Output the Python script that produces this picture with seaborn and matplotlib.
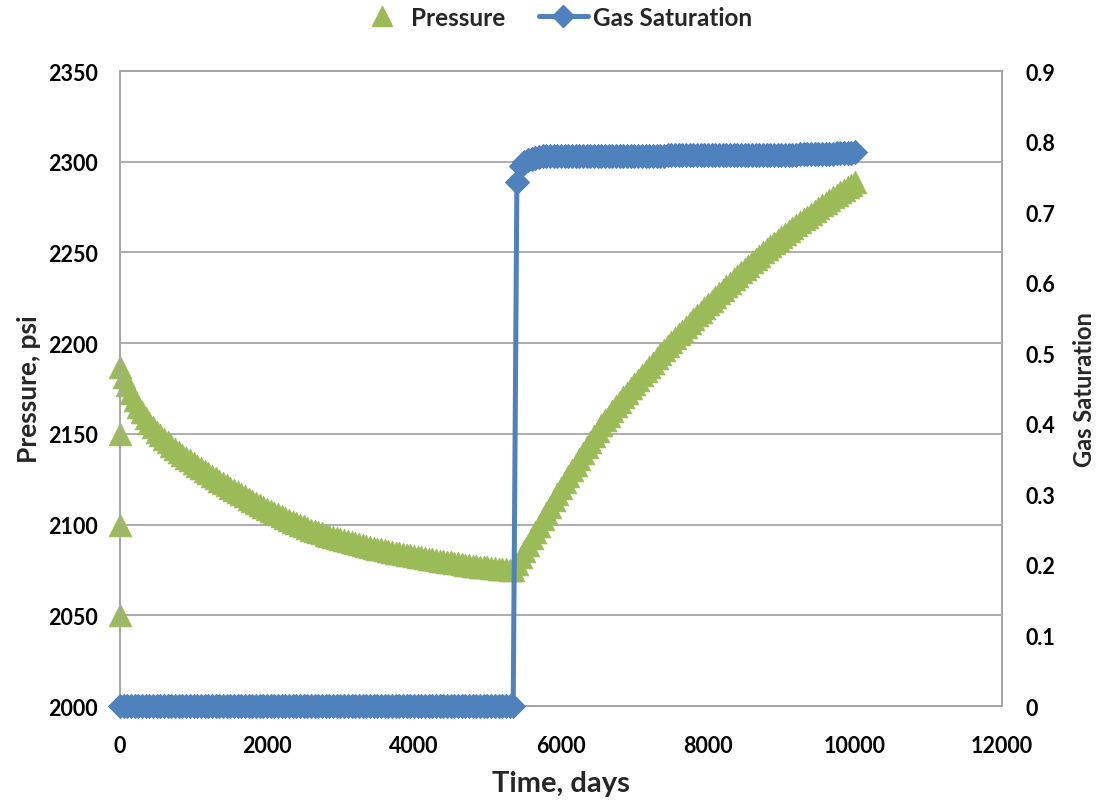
import matplotlib
matplotlib.use("Agg")
import matplotlib.pyplot as plt
from matplotlib.lines import Line2D
import seaborn as sns
import pandas as pd

# Simulation output: report times (days), one row per 500 days
time_days = [
    0, 50, 100, 150, 200, 250, 300, 350, 400, 450,
    500, 550, 600, 650, 700, 750, 800, 850, 900, 950,
    1000, 1050, 1100, 1150, 1200, 1250, 1300, 1350, 1400, 1450,
    1500, 1550, 1600, 1650, 1700, 1750, 1800, 1850, 1900, 1950,
    2000, 2050, 2100, 2150, 2200, 2250, 2300, 2350, 2400, 2450,
    2500, 2550, 2600, 2650, 2700, 2750, 2800, 2850, 2900, 2950,
    3000, 3050, 3100, 3150, 3200, 3250, 3300, 3350, 3400, 3450,
    3500, 3550, 3600, 3650, 3700, 3750, 3800, 3850, 3900, 3950,
    4000, 4050, 4100, 4150, 4200, 4250, 4300, 4350, 4400, 4450,
    4500, 4550, 4600, 4650, 4700, 4750, 4800, 4850, 4900, 4950,
    5000, 5050, 5100, 5150, 5200, 5250, 5300, 5350, 5400, 5450,
    5500, 5550, 5600, 5650, 5700, 5750, 5800, 5850, 5900, 5950,
    6000, 6050, 6100, 6150, 6200, 6250, 6300, 6350, 6400, 6450,
    6500, 6550, 6600, 6650, 6700, 6750, 6800, 6850, 6900, 6950,
    7000, 7050, 7100, 7150, 7200, 7250, 7300, 7350, 7400, 7450,
    7500, 7550, 7600, 7650, 7700, 7750, 7800, 7850, 7900, 7950,
    8000, 8050, 8100, 8150, 8200, 8250, 8300, 8350, 8400, 8450,
    8500, 8550, 8600, 8650, 8700, 8750, 8800, 8850, 8900, 8950,
    9000, 9050, 9100, 9150, 9200, 9250, 9300, 9350, 9400, 9450,
    9500, 9550, 9600, 9650, 9700, 9750, 9800, 9850, 9900, 9950,
    10000,
]

# Average reservoir pressure, psi
pressure_psi = [
    2187.0, 2181.6, 2176.8, 2172.4, 2168.6, 2165.0, 2161.8, 2158.8, 2156.1, 2153.6,
    2151.3, 2149.2, 2147.2, 2145.3, 2143.5, 2141.8, 2140.1, 2138.5, 2136.9, 2135.4,
    2133.9, 2132.4, 2131.0, 2129.6, 2128.2, 2126.8, 2125.5, 2124.2, 2122.9, 2121.6,
    2120.4, 2119.1, 2117.9, 2116.7, 2115.5, 2114.3, 2113.1, 2112.0, 2110.9, 2109.8,
    2108.7, 2107.6, 2106.6, 2105.6, 2104.6, 2103.6, 2102.7, 2101.7, 2100.8, 2099.9,
    2099.0, 2098.1, 2097.3, 2096.5, 2095.8, 2095.1, 2094.4, 2093.7, 2093.1, 2092.5,
    2091.9, 2091.3, 2090.8, 2090.2, 2089.7, 2089.2, 2088.7, 2088.2, 2087.7, 2087.2,
    2086.8, 2086.3, 2085.9, 2085.4, 2085.0, 2084.6, 2084.2, 2083.8, 2083.4, 2083.0,
    2082.6, 2082.2, 2081.9, 2081.5, 2081.2, 2080.8, 2080.5, 2080.1, 2079.8, 2079.5,
    2079.2, 2078.9, 2078.6, 2078.3, 2078.0, 2077.7, 2077.4, 2077.1, 2076.9, 2076.6,
    2076.4, 2076.1, 2075.9, 2075.7, 2075.5, 2075.3, 2075.1, 2075.0, 2078.5, 2082.0,
    2085.5, 2089.0, 2092.5, 2096.0, 2099.5, 2103.0, 2106.5, 2109.9, 2113.3, 2116.7,
    2120.0, 2123.3, 2126.6, 2129.9, 2133.1, 2136.3, 2139.5, 2142.6, 2145.7, 2148.8,
    2151.8, 2154.7, 2157.4, 2160.0, 2162.6, 2165.1, 2167.6, 2170.1, 2172.6, 2175.1,
    2177.5, 2179.9, 2182.3, 2184.7, 2187.0, 2189.3, 2191.6, 2193.9, 2196.1, 2198.3,
    2200.5, 2202.7, 2204.8, 2206.9, 2209.0, 2211.1, 2213.2, 2215.3, 2217.3, 2219.4,
    2221.4, 2223.4, 2225.4, 2227.4, 2229.4, 2231.4, 2233.3, 2235.2, 2237.1, 2239.0,
    2240.9, 2242.8, 2244.6, 2246.4, 2248.2, 2250.0, 2251.7, 2253.4, 2255.1, 2256.8,
    2258.5, 2260.2, 2261.8, 2263.4, 2265.0, 2266.6, 2268.2, 2269.8, 2271.3, 2272.9,
    2274.4, 2275.9, 2277.4, 2278.9, 2280.3, 2281.8, 2283.2, 2284.6, 2286.0, 2287.4,
    2288.8,
]

# Start-up pressure records logged at time zero
startup_time_days = [0, 0, 0]
startup_pressure_psi = [2050.0, 2100.0, 2150.0]

# Gas saturation, fraction
gas_saturation = [
    0, 0, 0, 0, 0, 0, 0, 0, 0, 0,
    0, 0, 0, 0, 0, 0, 0, 0, 0, 0,
    0, 0, 0, 0, 0, 0, 0, 0, 0, 0,
    0, 0, 0, 0, 0, 0, 0, 0, 0, 0,
    0, 0, 0, 0, 0, 0, 0, 0, 0, 0,
    0, 0, 0, 0, 0, 0, 0, 0, 0, 0,
    0, 0, 0, 0, 0, 0, 0, 0, 0, 0,
    0, 0, 0, 0, 0, 0, 0, 0, 0, 0,
    0, 0, 0, 0, 0, 0, 0, 0, 0, 0,
    0, 0, 0, 0, 0, 0, 0, 0, 0, 0,
    0, 0, 0, 0, 0, 0, 0, 0, 0.743, 0.765,
    0.771, 0.774, 0.776, 0.777, 0.778, 0.779, 0.779, 0.779, 0.779, 0.779,
    0.779, 0.779, 0.779, 0.779, 0.779, 0.779, 0.779, 0.779, 0.779, 0.779,
    0.779, 0.779, 0.779, 0.779, 0.779, 0.779, 0.779, 0.779, 0.779, 0.779,
    0.779, 0.779, 0.779, 0.779, 0.779, 0.779, 0.779, 0.779, 0.779, 0.781,
    0.781, 0.781, 0.781, 0.781, 0.781, 0.781, 0.781, 0.781, 0.781, 0.781,
    0.781, 0.781, 0.781, 0.781, 0.781, 0.781, 0.781, 0.781, 0.781, 0.781,
    0.781, 0.781, 0.781, 0.781, 0.781, 0.781, 0.781, 0.781, 0.781, 0.781,
    0.781, 0.781, 0.781, 0.781, 0.781, 0.783, 0.783, 0.783, 0.783, 0.783,
    0.783, 0.783, 0.783, 0.783, 0.783, 0.784, 0.784, 0.784, 0.784, 0.784,
    0.785,
]

x_ticks = [0, 2000, 4000, 6000, 8000, 10000, 12000]
p_ticks = [2000, 2050, 2100, 2150, 2200, 2250, 2300, 2350]
sg_ticks = [0, 0.1, 0.2, 0.3, 0.4, 0.5, 0.6, 0.7, 0.8, 0.9]

GREEN = "#9BBB59"
BLUE = "#4F81BD"
GRID = "#A6A6A6"

sns.set_theme(style="white")
plt.rcParams["font.family"] = ["Lato", "DejaVu Sans"]
plt.rcParams["font.weight"] = "bold"

pressure_df = pd.DataFrame({
    "time": startup_time_days + time_days,
    "pressure": startup_pressure_psi + pressure_psi,
})
sat_df = pd.DataFrame({"time": time_days, "sg": gas_saturation})

fig = plt.figure(figsize=(10.99, 8.04), dpi=100)
ax = fig.add_axes([0.1092, 0.1206, 0.8025, 0.7898])
ax2 = ax.twinx()

sns.scatterplot(data=pressure_df, x="time", y="pressure", ax=ax,
                marker="^", s=270, color=GREEN, edgecolor=GREEN,
                linewidth=0.5, legend=False, zorder=3, clip_on=False)
sns.lineplot(data=sat_df, x="time", y="sg", ax=ax2, color=BLUE,
             linewidth=3.6, marker="D", markersize=12,
             markeredgecolor=BLUE, markerfacecolor=BLUE,
             legend=False, zorder=4, clip_on=False)

ax.set_xlim(0, 12000)
ax.set_ylim(2000, 2350)
ax2.set_ylim(0, 0.9)
ax.set_xticks(x_ticks)
ax.set_yticks(p_ticks)
ax2.set_yticks(sg_ticks)
ax2.set_yticklabels(["0"] + [f"{v:.1f}" for v in sg_ticks[1:]])

ax.yaxis.grid(True, color=GRID, linewidth=1.3)
ax.xaxis.grid(False)
ax2.grid(False)
for a in (ax, ax2):
    for sp in a.spines.values():
        sp.set_color(GRID)
        sp.set_linewidth(1.3)

ax.tick_params(axis="x", length=0, pad=21, labelsize=15.5, labelcolor="black")
ax.tick_params(axis="y", length=0, pad=16, labelsize=15.5, labelcolor="black")
ax2.tick_params(axis="y", length=0, pad=17, labelsize=15.5, labelcolor="black")
for lab in ax.get_xticklabels() + ax.get_yticklabels() + ax2.get_yticklabels():
    lab.set_fontweight("bold")

ax.set_xlabel("Time, days", fontsize=21, fontweight="bold", labelpad=10)
ax.set_ylabel("Pressure, psi", fontsize=19, fontweight="bold", labelpad=5)
ax2.set_ylabel("Gas Saturation", fontsize=17, fontweight="bold", labelpad=13)

handles = [
    Line2D([], [], linestyle="none", marker="^", markersize=15,
           color=GREEN, markeredgecolor=GREEN),
    Line2D([], [], color=BLUE, linewidth=3.6, marker="D", markersize=11,
           markeredgecolor=BLUE),
]
fig.legend(handles, ["Pressure", "Gas Saturation"], loc="center",
           bbox_to_anchor=(0.5046, 0.9776), ncol=2, frameon=False,
           prop=dict(size=17.5, weight="bold"), handlelength=2.0,
           columnspacing=1.4, handletextpad=0.2, borderpad=0.1)

fig.savefig("out.png", dpi=100)
